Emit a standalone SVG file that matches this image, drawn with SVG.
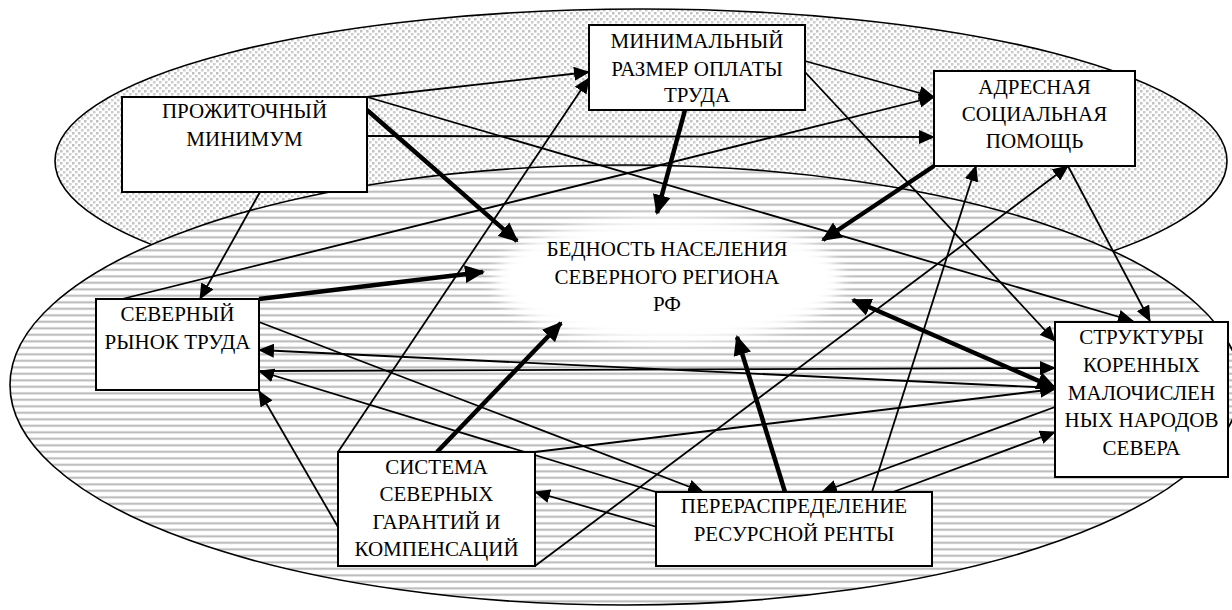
<svg xmlns="http://www.w3.org/2000/svg" width="1232" height="610" viewBox="0 0 1232 610">
<style>
.box{fill:#fff;stroke:#000;stroke-width:2}
text{font-family:'Liberation Serif','Times New Roman',serif;font-size:21px;fill:#000;text-anchor:middle}
.c{stroke:#000;stroke-width:1.8;fill:none;marker-end:url(#ah)}
.k{stroke:#000;stroke-width:4.5;fill:none;marker-end:url(#ahk)}
.el{stroke:#000;stroke-width:1.6}
</style>
<defs>
<pattern id="dots" width="6" height="6" patternUnits="userSpaceOnUse">
<rect width="6" height="6" fill="#fff"/>
<rect x="0" y="0" width="2.5" height="2.5" fill="#c2c2c2"/>
<rect x="3" y="3" width="2.5" height="2.5" fill="#cdcdcd"/>
</pattern>
<pattern id="stripes" width="8" height="6.5" patternUnits="userSpaceOnUse">
<rect width="8" height="6.5" fill="#fff"/>
<rect y="2" width="8" height="2.6" fill="#dcdcdc"/>
<rect y="2.7" width="8" height="1.2" fill="#b4b4b4"/>
</pattern>
<filter id="blur" x="-20%" y="-40%" width="140%" height="180%">
<feGaussianBlur stdDeviation="7"/>
</filter>
<marker id="ah" markerUnits="userSpaceOnUse" markerWidth="16" markerHeight="14" refX="15" refY="7" orient="auto">
<path d="M0,0 L16,7 L0,14 z" fill="#000"/>
</marker>
<marker id="ahk" markerUnits="userSpaceOnUse" markerWidth="20" markerHeight="18" refX="18" refY="9" orient="auto-start-reverse">
<path d="M0,0 L20,9 L0,18 z" fill="#000"/>
</marker>
</defs>
<rect width="1232" height="610" fill="#fff"/>
<g id="background">
<ellipse class="el" cx="641" cy="161" rx="586" ry="152" fill="url(#dots)"/>
<ellipse class="el" cx="625" cy="385" rx="615" ry="220" fill="url(#stripes)"/>
<ellipse cx="668" cy="280" rx="174" ry="63" fill="#fff" filter="url(#blur)"/>
</g>
<g id="connectors">
<line class="c" x1="367" y1="97" x2="589" y2="72"/>
<line class="c" x1="367" y1="97" x2="1133" y2="321"/>
<line class="c" x1="367" y1="136" x2="934" y2="137"/>
<line class="k" x1="367" y1="110" x2="517" y2="241"/>
<line class="c" x1="260" y1="192" x2="200" y2="299"/>
<line class="k" x1="685" y1="110" x2="657" y2="213"/>
<line class="c" x1="805" y1="61" x2="934" y2="97"/>
<line class="c" x1="805" y1="72" x2="1055" y2="341"/>
<line class="k" x1="934" y1="166" x2="823" y2="240"/>
<line class="c" x1="1068" y1="166" x2="1150" y2="321"/>
<line class="c" x1="122" y1="299" x2="934" y2="97"/>
<line class="k" x1="259" y1="299" x2="483" y2="272"/>
<line class="c" x1="259" y1="322" x2="703" y2="492"/>
<line class="c" x1="1055" y1="388" x2="259" y2="350"/>
<line class="c" x1="259" y1="371" x2="1055" y2="368"/>
<line class="c" x1="656" y1="492" x2="259" y2="371"/>
<line class="c" x1="338" y1="527" x2="259" y2="391"/>
<line class="c" x1="338" y1="452" x2="589" y2="78"/>
<line class="k" x1="437" y1="452" x2="561" y2="323"/>
<line class="c" x1="535" y1="452" x2="1055" y2="389"/>
<line class="c" x1="535" y1="566" x2="1068" y2="166"/>
<line class="c" x1="657" y1="527" x2="535" y2="492"/>
<line class="k" x1="785" y1="492" x2="737" y2="337"/>
<line class="c" x1="872" y1="492" x2="976" y2="166"/>
<line class="c" x1="893" y1="492" x2="1055" y2="432"/>
<line class="c" x1="1055" y1="407" x2="822" y2="492"/>
<line class="k" x1="853" y1="300" x2="1055" y2="388" style="marker-start:url(#ahk)"/>
</g>
<g id="poverty">
<text x="667" y="256">БЕДНОСТЬ НАСЕЛЕНИЯ</text>
<text x="667" y="284">СЕВЕРНОГО РЕГИОНА</text>
<text x="667" y="311">РФ</text>
</g>
<g id="subsistence">
<rect class="box" x="122" y="97" width="245" height="95"/>
<text x="244.5" y="118">ПРОЖИТОЧНЫЙ</text>
<text x="244.5" y="146">МИНИМУМ</text>
</g>
<g id="minwage">
<rect class="box" x="589" y="25" width="216" height="85"/>
<text x="697" y="48">МИНИМАЛЬНЫЙ</text>
<text x="697" y="76">РАЗМЕР ОПЛАТЫ</text>
<text x="697" y="102">ТРУДА</text>
</g>
<g id="social">
<rect class="box" x="934" y="71" width="201" height="95"/>
<text x="1034.5" y="94">АДРЕСНАЯ</text>
<text x="1034.5" y="121">СОЦИАЛЬНАЯ</text>
<text x="1034.5" y="148">ПОМОЩЬ</text>
</g>
<g id="labour">
<rect class="box" x="96" y="299" width="163" height="91"/>
<text x="177.5" y="321">СЕВЕРНЫЙ</text>
<text x="177.5" y="349">РЫНОК ТРУДА</text>
</g>
<g id="indigenous">
<rect class="box" x="1055" y="322" width="173" height="155"/>
<text x="1141.5" y="344">СТРУКТУРЫ</text>
<text x="1141.5" y="372">КОРЕННЫХ</text>
<text x="1141.5" y="400">МАЛОЧИСЛЕН</text>
<text x="1141.5" y="427">НЫХ НАРОДОВ</text>
<text x="1141.5" y="455">СЕВЕРА</text>
</g>
<g id="guarantees">
<rect class="box" x="338" y="452" width="197" height="114"/>
<text x="436.5" y="474">СИСТЕМА</text>
<text x="436.5" y="501">СЕВЕРНЫХ</text>
<text x="436.5" y="529">ГАРАНТИЙ И</text>
<text x="436.5" y="556">КОМПЕНСАЦИЙ</text>
</g>
<g id="rent">
<rect class="box" x="656" y="492" width="276" height="74"/>
<text x="794" y="513">ПЕРЕРАСПРЕДЕЛЕНИЕ</text>
<text x="794" y="541">РЕСУРСНОЙ РЕНТЫ</text>
</g>
</svg>
